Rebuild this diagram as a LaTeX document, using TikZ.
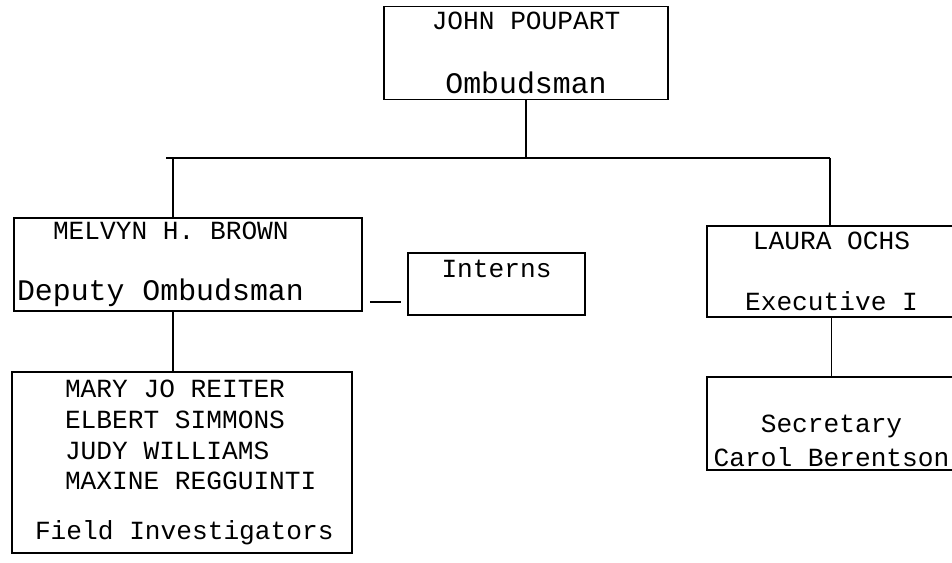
\documentclass[tikz,border=0pt]{standalone}
\usepackage{fontspec}
\newfontfamily\tyfont[WordSpace={1,0,0}]{Liberation Mono}
\newcommand\wsp{\spaceskip=0.6em\xspaceskip=0.6em\relax}
\newcommand\tw{\fontsize{14.9}{17.4}\selectfont\tyfont\frenchspacing}
\newcommand\tbig{\fontsize{17}{17.4}\selectfont\wsp}

\begin{document}
\begin{tikzpicture}[x=0.02cm,y=-0.02cm,line width=1.1pt,
        box/.style={draw,inner sep=0pt,align=center,font=\tw}]
  \useasboundingbox (0,0) rectangle (952,563);

  \node[box,minimum width=5.68cm,minimum height=1.86cm] (ombud) at (526,53)
        {JOHN POUPART\\[19pt]{\tbig Ombudsman}};
  \node[box,align=left,text width=6.84cm,inner xsep=0.06cm,minimum height=1.86cm]
        (melvyn) at (188,264.5)
        {\wsp\hspace*{0.72cm}MELVYN H. BROWN\\[17.4pt]{\tbig Deputy Ombudsman}};
  \node[box,minimum width=3.54cm,minimum height=1.24cm] (interns) at (496.5,284)
        {Interns\\\mbox{}};
  \node[box,minimum width=4.98cm,minimum height=1.82cm] (laura) at (831.5,271.5)
        {LAURA OCHS\\[17.4pt]Executive I};
  \node[box,minimum width=4.98cm,minimum height=1.86cm] (sec) at (831.5,423.5)
        {\rule{0pt}{10pt}\\[1.9pt]Secretary\\[1.9pt]Carol Berentson};
  \node[box,align=left,text width=6.68cm,inner xsep=0.06cm,minimum height=3.62cm]
        (field) at (182,462.5)
        {\wsp\hspace*{1.0cm}MARY JO REITER\\\hspace*{1.0cm}ELBERT SIMMONS\\
         \hspace*{1.0cm}JUDY WILLIAMS\\\hspace*{1.0cm}MAXINE REGGUINTI\\[10.8pt]
         \hspace*{0.4cm}Field Investigators};

  \coordinate (barL) at (173,158);
  \coordinate (barR) at (830,158);
  \coordinate (dashy) at (0,302);

  \draw (ombud.south) -- (ombud.south |- barL);
  \draw ([xshift=-0.14cm]barL) -- (barR);
  \draw (barL) -- (barL |- melvyn.north);
  \draw (barR) -- (barR |- laura.north);
  \draw (laura.south) -- (sec.north);
  \draw (barL |- melvyn.south) -- (barL |- field.north);
  \draw[shorten <=0.14cm,shorten >=0.12cm] (melvyn.east |- dashy) -- (interns.west |- dashy);
\end{tikzpicture}
\end{document}
